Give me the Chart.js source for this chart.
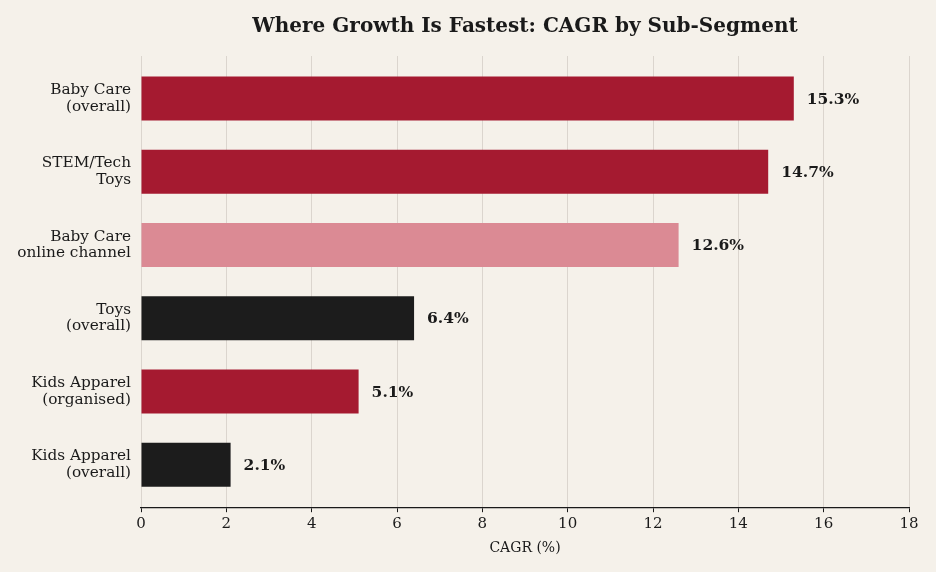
<!DOCTYPE html>
<html>
<head>
<meta charset="utf-8">
<script src="https://cdn.jsdelivr.net/npm/chart.js@4.4.0/dist/chart.umd.min.js"></script>
<style>
  html, body { margin: 0; padding: 0; background: #f5f1ea; }
  #wrap { width: 936px; height: 572px; }
</style>
</head>
<body>
<div id="wrap"><canvas id="c" width="936" height="572"></canvas></div>
<script>
const categories = [
  "Baby Care\n(overall)",
  "STEM/Tech\nToys",
  "Baby Care\nonline channel",
  "Toys\n(overall)",
  "Kids Apparel\n(organised)",
  "Kids Apparel\n(overall)"
];
const cagrValues = [15.3, 14.7, 12.6, 6.4, 5.1, 2.1];
const barColors = ["#a51a30", "#a51a30", "#db8a94", "#1c1c1c", "#a51a30", "#1c1c1c"];
const xTicks = [0, 2, 4, 6, 8, 10, 12, 14, 16, 18];

const FONT = "'DejaVu Serif', 'Liberation Serif', serif";

const bgPlugin = {
  id: 'bg',
  beforeDraw(chart) {
    const ctx = chart.ctx;
    ctx.save();
    ctx.fillStyle = '#f5f1ea';
    ctx.fillRect(0, 0, chart.width, chart.height);
    ctx.restore();
  }
};

const valueLabels = {
  id: 'valueLabels',
  afterDatasetsDraw(chart) {
    const ctx = chart.ctx;
    const meta = chart.getDatasetMeta(0);
    ctx.save();
    ctx.font = "bold 15.5px " + FONT;
    ctx.fillStyle = '#1a1a1a';
    ctx.textAlign = 'left';
    ctx.textBaseline = 'middle';
    meta.data.forEach((bar, i) => {
      ctx.fillText(cagrValues[i].toFixed(1) + '%', bar.x + 13, bar.y + 1);
    });
    ctx.restore();
  }
};

new Chart(document.getElementById('c'), {
  type: 'bar',
  data: {
    datasets: [{
      data: cagrValues.map((v, i) => ({ x: v, y: i })),
      backgroundColor: barColors,
      borderWidth: 0,
      barPercentage: 0.6,
      categoryPercentage: 1.0
    }]
  },
  options: {
    indexAxis: 'y',
    responsive: false,
    animation: false,
    devicePixelRatio: 1,
    layout: { padding: { left: 0, right: 27, top: 12, bottom: 11 } },
    plugins: {
      legend: { display: false },
      tooltip: { enabled: false },
      title: {
        display: true,
        fullSize: false,
        text: 'Where Growth Is Fastest: CAGR by Sub-Segment',
        color: '#1a1a1a',
        font: { family: FONT, size: 20, weight: 'bold', lineHeight: 1.2 },
        padding: { top: 3, bottom: 17 }
      }
    },
    scales: {
      x: {
        type: 'linear',
        min: 0,
        max: 18,
        afterBuildTicks(scale) { scale.ticks = xTicks.map(v => ({ value: v })); },
        ticks: {
          color: '#1a1a1a',
          font: { family: FONT, size: 15, lineHeight: 1.2 },
          padding: 3,
          maxRotation: 0
        },
        grid: {
          color: '#dbd5ce',
          lineWidth: 1,
          drawTicks: true,
          tickLength: 5,
          tickColor: '#1a1a1a',
          tickWidth: 1
        },
        border: { display: true, color: '#1a1a1a', width: 1.3 },
        title: {
          display: true,
          text: 'CAGR (%)',
          color: '#1a1a1a',
          font: { family: FONT, size: 14, lineHeight: 1.2 },
          padding: { top: 4, bottom: 4 }
        }
      },
      y: {
        type: 'linear',
        reverse: true,
        offset: false,
        min: -0.58,
        max: 5.58,
        afterBuildTicks(scale) { scale.ticks = categories.map((_, i) => ({ value: i })); },
        afterFit(scale) { scale.width = 141; },
        ticks: {
          color: '#1a1a1a',
          font: { family: FONT, size: 15.3, lineHeight: 1.08 },
          padding: 10,
          callback: (v) => {
            const lab = categories[Math.round(v)];
            return lab ? lab.split('\n') : '';
          }
        },
        grid: { display: false, drawTicks: false },
        border: { display: false }
      }
    }
  },
  plugins: [bgPlugin, valueLabels]
});
</script>
</body>
</html>
